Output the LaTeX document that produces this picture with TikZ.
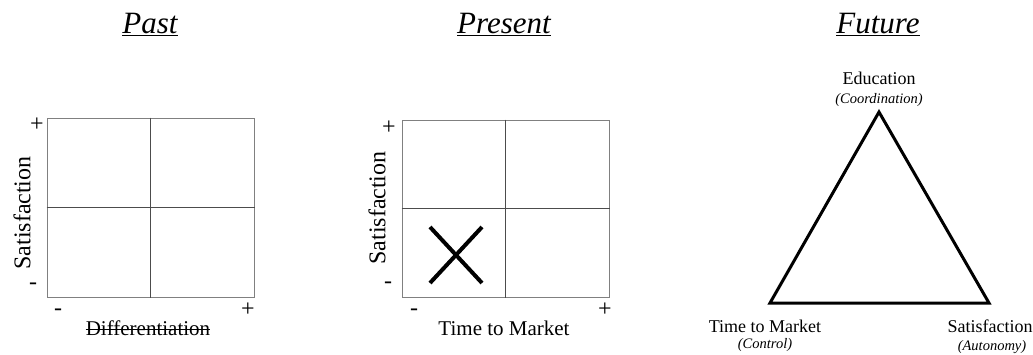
\documentclass[tikz,border=0pt]{standalone}
\usepackage{fontspec}
\setmainfont{Liberation Serif}
\usetikzlibrary{positioning,calc}
\tikzstyle{title} = [font=\fontsize{31}{34}\selectfont\itshape, anchor=base, inner sep=0pt]
\tikzstyle{quad} = [draw=black!50, line width=1pt, minimum width=207pt, minimum height=179pt, inner sep=0pt]
\tikzstyle{mid} = [draw=black!70, line width=0.8pt]
\tikzstyle{axis} = [font=\fontsize{21}{24}\selectfont, inner sep=0pt]
\tikzstyle{sign} = [font=\fontsize{24}{26}\selectfont, inner sep=0pt]
\tikzstyle{corner} = [font=\fontsize{18}{20}\selectfont, inner sep=0pt]
\tikzstyle{sub} = [font=\fontsize{14.5}{16}\selectfont\itshape, inner sep=0pt]

\begin{document}
\begin{tikzpicture}[x=1pt, y=-1pt]
  \useasboundingbox (0,0) rectangle (1033,354);

  % titles
  \node [title] (t-past) at (150,33) {\underline{Past}};
  \node [title] (t-present) at (504,33) {\underline{Present}};
  \node [title] (t-future) at (878,33) {\underline{Future}};

  % past quadrant
  \node [quad, draw] (past) at (150.5,207.5) {};
  \draw [mid] (past.north) -- (past.south);
  \draw [mid] (past.west) -- (past.east);
  \node [axis, rotate=90, font=\fontsize{24}{26}\selectfont] (p-ylab) at (22,213) {Satisfaction};
  \node [axis] (p-xlab) at (148,328) {Differentiation};
  \draw [line width=1pt] ($(p-xlab.west)+(0,1)$) -- ($(p-xlab.east)+(0,1)$);
  \node [sign] (p-yplus) at (37,125) {+};
  \node [sign] (p-yminus) at (33,286) {-};
  \node [sign] (p-xminus) at (58,312) {-};
  \node [sign] (p-xplus) at (248,310) {+};

  % present quadrant
  \node [quad, draw, minimum height=177pt] (present) at (505.5,208.5) {};
  \draw [mid] (present.north) -- (present.south);
  \draw [mid] (present.west) -- (present.east);
  \node [axis, rotate=90, font=\fontsize{24}{26}\selectfont] (r-ylab) at (377,208) {Satisfaction};
  \node [axis] (r-xlab) at (504,328) {Time to Market};
  \node [sign] (r-yplus) at (389,128) {+};
  \node [sign] (r-yminus) at (388,285) {-};
  \node [sign] (r-xminus) at (414,312) {-};
  \node [sign] (r-xplus) at (605,310) {+};
  \coordinate (x-nw) at (430,227);
  \coordinate (x-se) at (482,283);
  \draw [line width=4pt] (x-nw) -- (x-se);
  \draw [line width=4pt] (x-nw |- x-se) -- (x-se |- x-nw);

  % future triangle
  \coordinate (edu) at (879,112);
  \coordinate (ttm) at (770,303);
  \coordinate (sat) at (989,303);
  \draw [line width=3pt, line join=miter] (edu) -- (ttm) -- (sat) -- cycle;
  \node [corner] (edu-lab) at (879,78) {Education};
  \node [sub] (edu-sub) at (879,100) {(Coordination)};
  \node [corner] (ttm-lab) at (765,326) {Time to Market};
  \node [sub] (ttm-sub) at (765,345) {(Control)};
  \node [corner] (sat-lab) at (990,326) {Satisfaction};
  \node [sub] (sat-sub) at (992,347) {(Autonomy)};
\end{tikzpicture}
\end{document}
